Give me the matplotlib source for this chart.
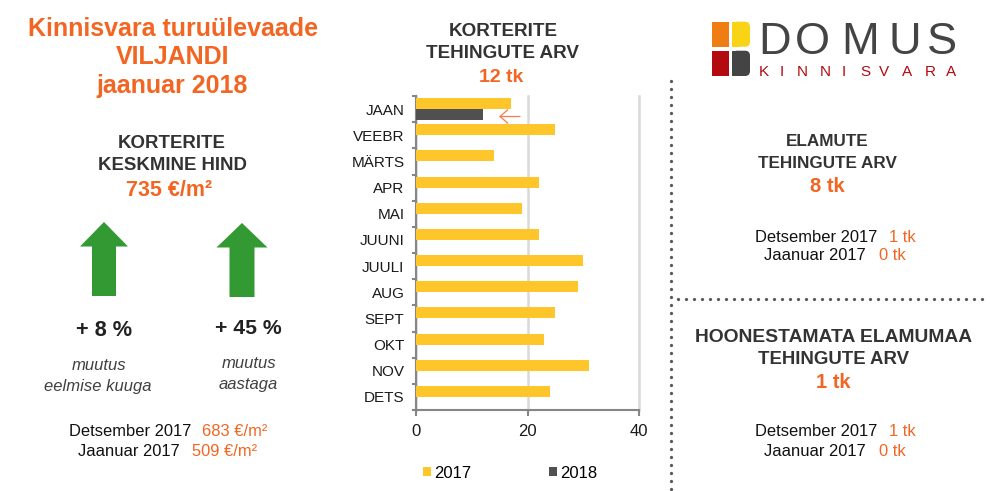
import matplotlib
matplotlib.use('Agg')
import matplotlib.pyplot as plt
from matplotlib.patches import Polygon, Rectangle, FancyBboxPatch

plt.rcParams['font.family'] = ['Liberation Sans', 'DejaVu Sans']

months = ['JAAN', 'VEEBR', 'MÄRTS', 'APR', 'MAI', 'JUUNI', 'JUULI', 'AUG', 'SEPT', 'OKT', 'NOV', 'DETS']
values_2017 = [17, 25, 14, 22, 19, 22, 30, 29, 25, 23, 31, 24]
values_2018 = [12]

ORANGE = '#f26522'
YELLOW = '#ffc62c'
DARK = '#505050'
GREEN = '#339933'
TXT = '#1a1a1a'
HEAD = '#333333'

fig = plt.figure(figsize=(9.93, 4.91), dpi=100)

# overlay in pixel coordinates for the infographic parts
bg = fig.add_axes([0, 0, 1, 1])
bg.set_xlim(0, 993)
bg.set_ylim(491, 0)
bg.axis('off')


def label(x, y, s, size=12, color=TXT, weight='normal', style='normal', ha='center'):
    bg.text(x, y + 1, s, fontsize=size, color=color, fontweight=weight, fontstyle=style,
            ha=ha, va='center')


def two_part(x_end, y, left, x_val, right):
    # black label followed by orange value
    label(x_end, y, left, 11.9, '#111111', ha='right')
    label(x_val, y, right, 11.9, ORANGE, ha='left')


# left column
label(173, 28, 'Kinnisvara turuülevaade', 18, ORANGE, 'bold')
label(173, 56, 'VILJANDI', 18, ORANGE, 'bold')
label(172, 85, 'jaanuar 2018', 18, ORANGE, 'bold')
label(172, 143, 'KORTERITE', 13.4, HEAD, 'bold')
label(172, 164, 'KESKMINE HIND', 13.4, HEAD, 'bold')
label(169.5, 190, '735 €/m²', 15.5, ORANGE, 'bold')

for tip, head_y, hw, sw, bottom in [(104, 222, 24, 12, 296), (242, 223, 25.5, 12.5, 297)]:
    bg.add_patch(Polygon([(tip, head_y), (tip + hw, head_y + 24.5), (tip + sw, head_y + 24.5),
                          (tip + sw, bottom), (tip - sw, bottom), (tip - sw, head_y + 24.5),
                          (tip - hw, head_y + 24.5)], closed=True, color=GREEN, lw=0))

label(104.5, 329, '+ 8 %', 15.7, '#222222', 'bold')
label(248, 328, '+ 45 %', 15.2, '#222222', 'bold')
label(99, 364, 'muutus', 12, '#404040', style='italic')
label(98, 385, 'eelmise kuuga', 12, '#404040', style='italic')
label(249, 363, 'muutus', 12, '#404040', style='italic')
label(248, 383, 'aastaga', 12, '#404040', style='italic')
two_part(191, 431, 'Detsember 2017', 202, '683 €/m²')
two_part(180, 450, 'Jaanuar 2017', 192, '509 €/m²')

# middle heading
label(503, 30, 'KORTERITE', 13.6, HEAD, 'bold')
label(503, 52, 'TEHINGUTE ARV', 13.6, HEAD, 'bold')
label(501, 76, '12 tk', 14, ORANGE, 'bold')

# right column
label(827, 140, 'ELAMUTE', 12.3, HEAD, 'bold')
label(827, 162, 'TEHINGUTE ARV', 12.3, HEAD, 'bold')
label(827, 186, '8 tk', 14.5, ORANGE, 'bold')
two_part(877, 236, 'Detsember 2017', 889, '1 tk')
two_part(866, 255, 'Jaanuar 2017', 879, '0 tk')
label(833.5, 336, 'HOONESTAMATA ELAMUMAA', 13.85, HEAD, 'bold')
label(833.5, 358, 'TEHINGUTE ARV', 13.4, HEAD, 'bold')
label(833, 382, '1 tk', 14.5, ORANGE, 'bold')
two_part(877, 431, 'Detsember 2017', 889, '1 tk')
two_part(866, 450, 'Jaanuar 2017', 879, '0 tk')

# dotted separators
dots = (0, (0.01, 2.39))
bg.plot([670.7, 670.7], [81, 491], color='#595959', lw=2.4, ls=dots, dash_capstyle='round')
bg.plot([677.7, 986], [299, 299], color='#595959', lw=2.4, ls=dots, dash_capstyle='round')

# logo
bg.add_patch(Rectangle((712.3, 21.7), 17, 25, color='#f07d14', lw=0))
bg.add_patch(Rectangle((712.3, 50.7), 17, 25.3, color='#b20a0f', lw=0))
for y, h, col in [(21.7, 25, '#f9d316'), (50.7, 25.3, '#444444')]:
    bg.add_patch(FancyBboxPatch((732.3, y), 17.7, h, boxstyle='round,pad=0,rounding_size=5', color=col, lw=0))
    bg.add_patch(Rectangle((732.3, y), 8, h, color=col, lw=0))
for x, ch in zip([774.5, 812.5, 860, 905, 942], 'DOMUS'):
    label(x, 41.5, ch, 32.5, '#444444')
for x, ch in zip([764, 782, 802, 825, 844, 865, 884, 907, 930, 951], 'KINNISVARA'):
    label(x, 71, ch, 11, '#b20a0f')

# bar chart
ax = fig.add_axes([416.3 / 993, 1 - 410 / 491, (639 - 416.3) / 993, (410 - 96) / 491])
pos = list(range(len(months)))
bar_h = 0.42
ax.barh([p - bar_h / 2 for p in pos], values_2017, height=bar_h, color=YELLOW, label='2017', zorder=3)
ax.barh([p + bar_h / 2 for p in pos[:len(values_2018)]], values_2018, height=bar_h, color=DARK, label='2018', zorder=3)
ax.set_ylim(11.5, -0.5)
ax.set_xlim(0, 40)
ax.set_yticks(pos)
ax.set_yticklabels(months, fontsize=11, color=TXT)
ax.set_xticks([0, 20, 40])
ax.tick_params(axis='x', labelsize=12, length=4, width=1.5, color='#868686', labelcolor=TXT, pad=6)
ax.tick_params(axis='y', length=0, pad=8.5)
for y in [p - 0.5 for p in pos] + [11.5]:
    ax.plot([-0.65, 0], [y, y], color='#868686', lw=1.5, clip_on=False, zorder=4)
ax.grid(axis='x', color='#d9d9d9', lw=1.8, zorder=0)
for line in ax.get_xgridlines():
    line.set_clip_on(False)
ax.set_axisbelow(True)
for side in ['top', 'right']:
    ax.spines[side].set_visible(False)
for side in ['left', 'bottom']:
    ax.spines[side].set_color('#868686')
    ax.spines[side].set_linewidth(1.5)
ax.patch.set_alpha(0)

ax.legend(loc='center left', bbox_to_anchor=(0.03, -0.201), ncol=2, frameon=False, fontsize=12,
          handlelength=0.5, handleheight=0.45, handletextpad=0.18, columnspacing=4.66, borderaxespad=0, borderpad=0)

# small arrow next to the January bar
bg.annotate('', xy=(499, 116.5), xytext=(520, 116.5),
            arrowprops=dict(arrowstyle='->,head_length=0.35,head_width=0.3', color='#f47c4e', lw=0.9,
                            mutation_scale=16, shrinkA=0, shrinkB=0), zorder=5)

fig.savefig('out.png', dpi=100)
